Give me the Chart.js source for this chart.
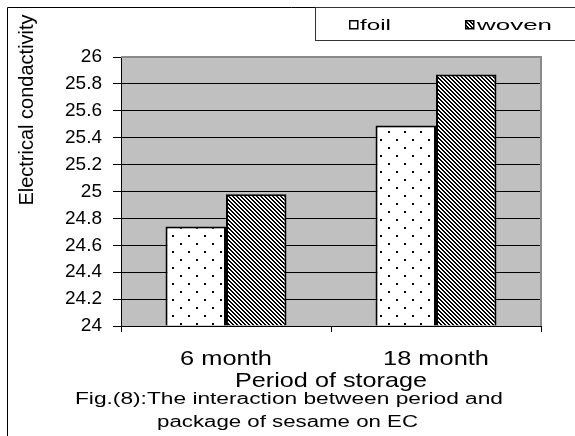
<!DOCTYPE html>
<html><head><meta charset="utf-8">
<script src="https://cdn.jsdelivr.net/npm/chart.js@4.4.1/dist/chart.umd.min.js"></script>
<style>html,body{margin:0;padding:0;background:#fff;overflow:hidden}</style>
</head><body>
<canvas id="c" width="575" height="436"></canvas>
<script>
const categories = ['6 month', '18 month'];
const seriesNames = ['foil', 'woven'];
const foilValues = [24.74, 25.49];
const wovenValues = [24.98, 25.87];
const yTickValues = [24, 24.2, 24.4, 24.6, 24.8, 25, 25.2, 25.4, 25.6, 25.8, 26];
const yTickLabels = ['24', '24.2', '24.4', '24.6', '24.8', '25', '25.2', '25.4', '25.6', '25.8', '26'];
const yTitle = 'Electrical condactivity';
const xTitle = 'Period of storage';
const captionLines = ['Fig.(8):The interaction between period and', 'package of sesame on EC'];

function makeDots() {
  const c = document.createElement('canvas'); c.width = 16; c.height = 16;
  const g = c.getContext('2d');
  g.fillStyle = '#fff'; g.fillRect(0, 0, 16, 16);
  g.fillStyle = '#000';
  g.fillRect(4, 3, 2, 2); g.fillRect(12, 11, 2, 2);
  return g.createPattern(c, 'repeat');
}
function makeHatch() {
  const s = 4;
  const c = document.createElement('canvas'); c.width = s; c.height = s;
  const g = c.getContext('2d');
  g.fillStyle = '#fff'; g.fillRect(0, 0, s, s);
  g.fillStyle = '#000';
  for (let i = 0; i < s; i++) { g.fillRect(i, i, 1, 1); if (i + 1 < s) g.fillRect(i + 1, i, 1, 1); }
  g.fillRect(0, s - 1, 1, 1);
  return g.createPattern(c, 'repeat');
}
const dotPattern = makeDots();
const hatchPattern = makeHatch();

function fitText(ctx, text, left, base, width) {
  const w = ctx.measureText(text).width;
  ctx.save();
  ctx.translate(left, base);
  ctx.scale(width / w, 1);
  ctx.fillText(text, 0, 0);
  ctx.restore();
}

// horizontally stretch every fillText call made by fn (about the anchor x)
function withStretch(ctx, k, fn) {
  const orig = ctx.fillText;
  ctx.fillText = function (t, x, y, mw) {
    this.save();
    this.translate(x, y);
    this.scale(k, 1);
    orig.call(this, t, 0, 0);
    this.restore();
  };
  try { fn(); } finally { ctx.fillText = orig; }
}

const decor = {
  id: 'decor',
  afterLayout(chart) {
    const s = chart.scales.x;
    if (s && !s._stretched) {
      const ol = s.drawLabels, ot = s.drawTitle;
      s.drawLabels = function (a) { withStretch(this.ctx, 1.27, () => ol.call(this, a)); };
      s.drawTitle = function (a) { withStretch(this.ctx, 1.2, () => ot.call(this, a)); };
      s._stretched = true;
    }
  },
  beforeDraw(chart) {
    const { ctx, chartArea: a } = chart;
    ctx.save();
    ctx.fillStyle = '#fff'; ctx.fillRect(0, 0, chart.width, chart.height);
    ctx.fillStyle = '#c0c0c0'; ctx.fillRect(a.left, a.top, a.right - a.left, a.bottom - a.top);
    ctx.restore();
  },
  afterDraw(chart) {
    const { ctx, chartArea: a } = chart;
    ctx.save();
    ctx.strokeStyle = '#8a8a8a'; ctx.lineWidth = 2;
    ctx.beginPath();
    ctx.moveTo(a.left, a.top); ctx.lineTo(a.right, a.top); ctx.lineTo(a.right, a.bottom);
    ctx.stroke();
    ctx.strokeStyle = '#000'; ctx.lineWidth = 1;
    ctx.beginPath();
    ctx.moveTo(7.5, 436); ctx.lineTo(7.5, 7.5); ctx.lineTo(575, 7.5);
    ctx.stroke();
    ctx.strokeStyle = '#333';
    ctx.strokeRect(315.5, 7.5, 262, 33);
    const items = [
      { x: 349, fill: '#fff', tx: 360, tw: 31 },
      { x: 465, fill: hatchPattern, tx: 477, tw: 75 }
    ];
    ctx.font = '14px "Liberation Sans", Arial, sans-serif';
    ctx.textBaseline = 'alphabetic';
    ctx.textAlign = 'left';
    items.forEach((it, i) => {
      ctx.fillStyle = it.fill; ctx.fillRect(it.x, 20, 9, 9);
      ctx.strokeStyle = '#000'; ctx.lineWidth = 1.5; ctx.strokeRect(it.x + 0.75, 20.75, 8, 8);
      ctx.fillStyle = '#000';
      fitText(ctx, chart.data.datasets[i].label, it.tx, 30, it.tw);
    });
    ctx.save();
    ctx.translate(27, 110);
    ctx.rotate(-Math.PI / 2);
    ctx.font = '20px "Liberation Sans", Arial, sans-serif';
    ctx.textAlign = 'center'; ctx.textBaseline = 'middle';
    ctx.fillStyle = '#000';
    ctx.fillText(yTitle, 0, 0);
    ctx.restore();
    ctx.font = '16px "Liberation Sans", Arial, sans-serif';
    ctx.textAlign = 'left'; ctx.textBaseline = 'alphabetic';
    ctx.fillStyle = '#000';
    fitText(ctx, captionLines[0], 75, 404, 428);
    fitText(ctx, captionLines[1], 157, 427, 261);
    ctx.restore();
  }
};

new Chart(document.getElementById('c'), {
  type: 'bar',
  data: {
    labels: categories,
    datasets: [
      { label: seriesNames[0], data: foilValues, backgroundColor: dotPattern, borderColor: '#000', borderWidth: 2, base: yTickValues[0] },
      { label: seriesNames[1], data: wovenValues, backgroundColor: hatchPattern, borderColor: '#000', borderWidth: 2, base: yTickValues[0] }
    ]
  },
  options: {
    responsive: false,
    animation: false,
    devicePixelRatio: 1,
    events: [],
    layout: { padding: { top: 57, right: 34, left: 0, bottom: 0 } },
    datasets: { bar: { categoryPercentage: 0.576, barPercentage: 1 } },
    plugins: { legend: { display: false }, tooltip: { enabled: false } },
    scales: {
      x: {
        type: 'category',
        offset: true,
        grid: { offset: true, drawOnChartArea: false, drawTicks: true, tickLength: 6, color: '#000' },
        border: { display: true, color: '#000', width: 1 },
        ticks: { color: '#000', padding: 15, maxRotation: 0, font: { family: '"Liberation Sans", Arial, sans-serif', size: 20 } },
        title: { display: true, text: xTitle, color: '#000', padding: { top: 0, bottom: 42 }, font: { family: '"Liberation Sans", Arial, sans-serif', size: 21 } },
        afterFit(s) { s.height = 110; }
      },
      y: {
        min: yTickValues[0],
        max: yTickValues[yTickValues.length - 1],
        afterBuildTicks(s) { s.ticks = yTickValues.map(v => ({ value: v })); },
        grid: { color: '#000', lineWidth: 1, drawTicks: true, tickLength: 8 },
        border: { display: true, color: '#000', width: 1 },
        ticks: { color: '#000', padding: 11, font: { family: '"Liberation Sans", Arial, sans-serif', size: 19 },
          callback: (v, i) => yTickLabels[i] },
        afterFit(s) { s.width = 121; }
      }
    }
  },
  plugins: [decor]
});
</script>
</body></html>
